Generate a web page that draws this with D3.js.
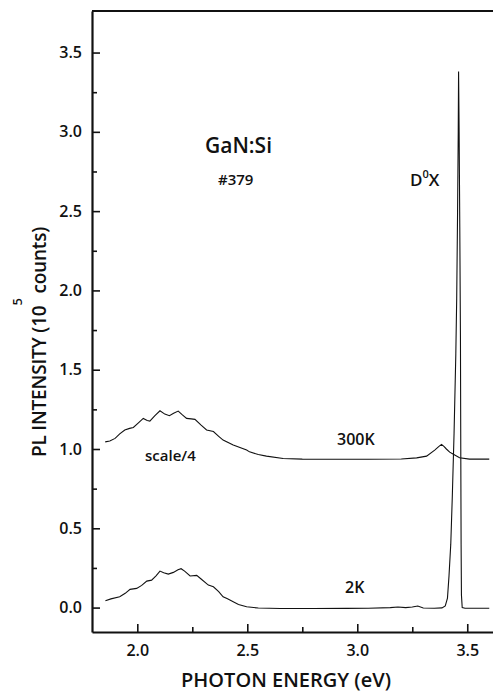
<!DOCTYPE html>
<html>
<head>
<meta charset="utf-8">
<script src="https://cdn.jsdelivr.net/npm/d3@7"></script>
<style>
  body { margin: 0; background: #fff; }
  text { font-family: "Open Sans", sans-serif; fill: #111; }
</style>
</head>
<body>
<div id="plot"></div>
<script>
// PL spectra of GaN:Si (#379)
const energy2K = [1.855, 1.88, 1.92, 1.945, 1.967, 1.997, 2.02, 2.043, 2.065, 2.085, 2.103, 2.12, 2.141, 2.164, 2.185, 2.199, 2.215, 2.24, 2.27, 2.29, 2.323, 2.346, 2.37, 2.39, 2.41, 2.436, 2.46, 2.497, 2.55, 2.65, 2.8, 2.95, 3.05, 3.15, 3.185, 3.22, 3.25, 3.275, 3.3, 3.35, 3.385, 3.4, 3.41, 3.417, 3.425, 3.432, 3.44, 3.448, 3.452, 3.456, 3.459, 3.4605, 3.463, 3.466, 3.469, 3.4705, 3.472, 3.4735, 3.477, 3.49, 3.6];
const pl2K = [0.043, 0.055, 0.068, 0.09, 0.115, 0.121, 0.14, 0.167, 0.173, 0.2, 0.23, 0.22, 0.211, 0.222, 0.238, 0.245, 0.23, 0.199, 0.203, 0.18, 0.142, 0.131, 0.1, 0.068, 0.055, 0.037, 0.02, 0.005, -0.003, -0.006, -0.006, -0.005, -0.004, 0.0, 0.004, 0.0, 0.004, 0.01, -0.003, -0.004, -0.002, 0.01, 0.06, 0.2, 0.4, 0.7, 1.1, 1.6, 1.95, 2.5, 3.0, 3.38, 3.0, 2.4, 1.7, 1.0, 0.4, 0.08, 0.0, -0.004, -0.004];

const energy300K = [1.854, 1.875, 1.899, 1.92, 1.943, 1.965, 1.982, 2.005, 2.027, 2.045, 2.057, 2.08, 2.103, 2.125, 2.146, 2.165, 2.186, 2.205, 2.224, 2.245, 2.262, 2.29, 2.315, 2.346, 2.37, 2.39, 2.436, 2.497, 2.51, 2.55, 2.587, 2.663, 2.75, 2.9, 3.05, 3.2, 3.27, 3.315, 3.352, 3.37, 3.383, 3.395, 3.405, 3.42, 3.435, 3.465, 3.51, 3.6];
const pl300K = [1.045, 1.05, 1.067, 1.095, 1.12, 1.13, 1.136, 1.165, 1.193, 1.18, 1.176, 1.21, 1.241, 1.22, 1.21, 1.225, 1.239, 1.215, 1.193, 1.19, 1.187, 1.15, 1.12, 1.11, 1.08, 1.056, 1.025, 0.993, 0.982, 0.965, 0.955, 0.94, 0.936, 0.935, 0.935, 0.937, 0.944, 0.955, 0.993, 1.015, 1.029, 1.015, 1.0, 0.98, 0.968, 0.945, 0.936, 0.936];

const xTicks = [2.0, 2.5, 3.0, 3.5];
const xMinorTicks = [2.25, 2.75, 3.25];
const yTicks = [0.0, 0.5, 1.0, 1.5, 2.0, 2.5, 3.0, 3.5];
const yMinorTicks = [0.25, 0.75, 1.25, 1.75, 2.25, 2.75, 3.25];

// Width and height
const w = 493;
const h = 696;
const margin = {top: 11, right: 0, bottom: 64, left: 92};
const innerWidth = w - margin.left - margin.right;
const innerHeight = h - margin.top - margin.bottom;

const svg = d3.select("div#plot")
  .append("svg")
    .attr("width", w)
    .attr("height", h);

const g = svg.append("g")
  .attr("transform", `translate(${margin.left}, ${margin.top})`);

const xScale = d3.scaleLinear()
  .domain([1.794, 3.617])
  .range([0, innerWidth]);

const yScale = d3.scaleLinear()
  .domain([-0.154, 3.762])
  .range([innerHeight, 0]);

// minor ticks first (no labels)
g.append("g")
  .attr("transform", `translate(0, ${innerHeight})`)
  .call(d3.axisBottom(xScale).tickValues(xMinorTicks).tickSize(-5))
  .call(a => a.select(".domain").remove())
  .call(a => a.selectAll("text").remove());

g.append("g")
  .call(d3.axisLeft(yScale).tickValues(yMinorTicks).tickSize(-5))
  .call(a => a.select(".domain").remove())
  .call(a => a.selectAll("text").remove());

// x-axis
g.append("g")
  .attr("transform", `translate(0, ${innerHeight})`)
  .call(d3.axisBottom(xScale)
    .tickValues(xTicks)
    .tickSizeInner(-8)
    .tickSizeOuter(0)
    .tickPadding(13)
    .tickFormat(d3.format(".1f")));

// y-axis
g.append("g")
  .call(d3.axisLeft(yScale)
    .tickValues(yTicks)
    .tickSizeInner(-8)
    .tickSizeOuter(0)
    .tickPadding(10)
    .tickFormat(d3.format(".1f")));

svg.selectAll(".tick line").attr("stroke", "#111").attr("stroke-width", 1.6);
svg.selectAll(".domain").attr("stroke", "#111").attr("stroke-width", 2.2);
svg.selectAll(".tick text")
  .attr("font-size", 16)
  .attr("font-weight", 600)
  .style("font-family", "'Open Sans', sans-serif");

// top frame line
g.append("line")
  .attr("x1", 0)
  .attr("x2", innerWidth)
  .attr("y1", 0)
  .attr("y2", 0)
  .attr("stroke", "#111")
  .attr("stroke-width", 2.2);

// spectra
const line = d3.line()
  .x(d => xScale(d[0]))
  .y(d => yScale(d[1]));

[[energy300K, pl300K], [energy2K, pl2K]].forEach(([ex, ys]) => {
  g.append("path")
    .datum(ex.map((e, i) => [e, ys[i]]))
    .attr("fill", "none")
    .attr("stroke", "#111")
    .attr("stroke-width", 1.1)
    .attr("d", line);
});

// axis titles
svg.append("text")
  .attr("x", 286)
  .attr("y", 687)
  .attr("text-anchor", "middle")
  .attr("font-size", 20)
  .attr("font-weight", 600)
  .text("PHOTON ENERGY (eV)");

const ylab = svg.append("text")
  .attr("transform", "translate(46, 342) rotate(-90)")
  .attr("text-anchor", "middle")
  .attr("font-size", 19)
  .attr("font-weight", 600)
  .attr("letter-spacing", -0.2);
ylab.append("tspan").text("PL INTENSITY (10");
ylab.append("tspan").attr("font-size", 13).attr("dy", -24).text("5");
ylab.append("tspan").attr("dy", 24).text(" counts)");

// annotations
const note = (x, y, size, txt) => svg.append("text")
  .attr("x", x).attr("y", y)
  .attr("font-size", size)
  .attr("font-weight", 600)
  .text(txt);

note(205, 153, 21, "GaN:Si");
note(218, 185, 15, "#379");
note(337, 445, 16, "300K");
note(145, 461, 15, "scale/4");
note(345, 593, 16, "2K");

const dx = note(410, 186, 17, "D");
dx.append("tspan").attr("font-size", 11).attr("dy", -8).text("0");
dx.append("tspan").attr("dy", 8).text("X");
</script>
</body>
</html>
